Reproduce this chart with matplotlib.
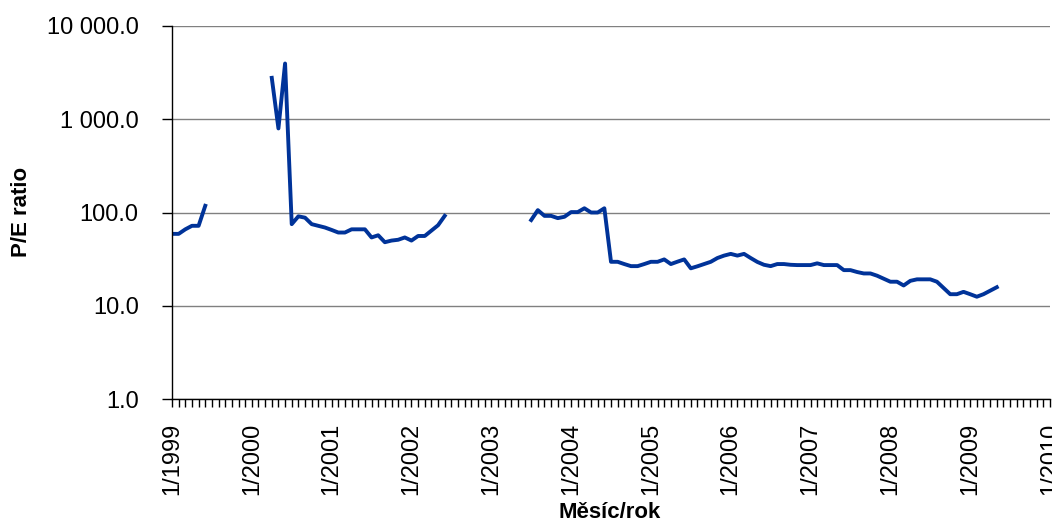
import numpy as np
import matplotlib.pyplot as plt
from matplotlib.ticker import FixedLocator, FuncFormatter

plt.rcParams['font.family'] = ['Liberation Sans', 'DejaVu Sans']

# monthly P/E ratio, three stretches with missing months between them
start_1 = 0    # 1/1999
pe_1 = [59, 59, 66, 72, 72, 118]

start_2 = 15   # 4/2000
pe_2 = [2780, 797, 3960, 75, 91, 88, 75, 72, 69, 65, 61, 61, 66, 66, 66,
        54, 57, 48, 50, 51, 54, 50, 56, 56, 64, 73, 92]

start_3 = 54   # 7/2003
pe_3 = [83, 106, 92, 92, 87, 90, 101, 101, 111, 100, 100, 111,
        29.6, 29.6, 28, 26.6, 26.6, 28, 29.6, 29.6, 31.4, 28, 29.7, 31.4,
        25.2, 26.5, 28, 29.6, 32.5, 34.5, 36, 34.5, 36, 32.5, 29.5, 27.5,
        26.6, 28, 28, 27.5, 27.3, 27.3, 27.3, 28.5, 27.3, 27.3, 27.3, 24.1,
        24.1, 23, 22.2, 22.2, 21, 19.5, 18.1, 18.1, 16.5, 18.5, 19.2, 19.2,
        19.2, 18.1, 15.5, 13.3, 13.3, 14.1, 13.3, 12.5, 13.3, 14.5, 15.8]

years = list(range(1999, 2011))
n_months = 12 * (len(years) - 1)

series = np.full(n_months + 1, np.nan)
for start, vals in [(start_1, pe_1), (start_2, pe_2), (start_3, pe_3)]:
    series[start:start + len(vals)] = vals

fig = plt.figure(figsize=(10.52, 5.28), dpi=100)
ax = fig.add_axes([172 / 1052, 1 - 399 / 528, 878 / 1052, 373 / 528])

ax.plot(np.arange(n_months + 1), series, color='#003399', lw=2.8, solid_joinstyle='round')

ax.set_yscale('log')
ax.set_ylim(1, 10000)
ax.set_xlim(0, n_months)

ax.yaxis.set_major_locator(FixedLocator([1, 10, 100, 1000, 10000]))
ax.yaxis.set_minor_locator(FixedLocator([]))
ax.yaxis.set_major_formatter(FuncFormatter(lambda v, p: f"{v:,.1f}".replace(',', ' ')))
ax.grid(axis='y', color='#808080', lw=1)
ax.set_axisbelow(True)

ax.set_xticks(np.arange(0, n_months + 1, 12))
ax.set_xticklabels([f"1/{y}" for y in years], rotation=90)
ax.set_xticks(np.arange(0, n_months + 1), minor=True)
ax.tick_params(axis='x', which='both', direction='out', length=6, width=1, color='black')
ax.tick_params(axis='x', which='major', pad=11, labelsize=17)
ax.tick_params(axis='y', length=7, width=1, pad=17, labelsize=17)

for s in ['top', 'right']:
    ax.spines[s].set_visible(False)
for s in ['left', 'bottom']:
    ax.spines[s].set_color('black')
    ax.spines[s].set_linewidth(1)

fig.text(22 / 1052, 1 - 212 / 528, 'P/E ratio', rotation=90, fontsize=16,
         fontweight='bold', ha='center', va='center')
fig.text(610 / 1052, 1 - 512 / 528, 'Měsíc/rok', fontsize=16,
         fontweight='bold', ha='center', va='center')

fig.savefig('out.png', dpi=100)
